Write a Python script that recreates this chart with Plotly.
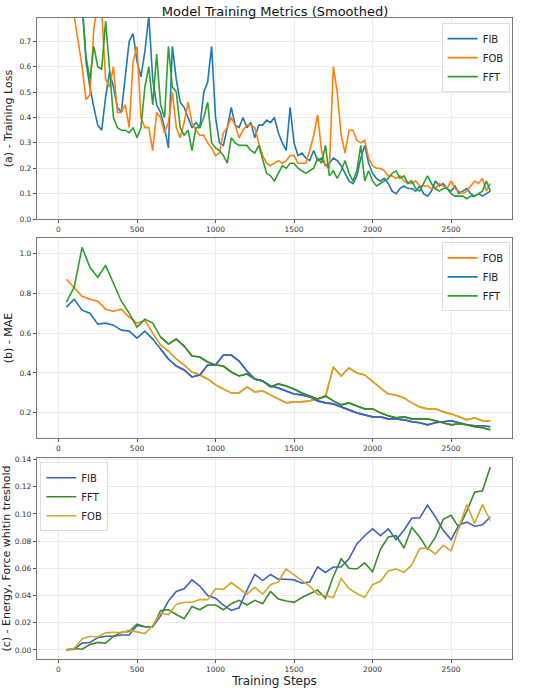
import plotly.graph_objects as go

# training loss, sampled every 25 steps
loss_steps = list(range(0, 2775, 25))
loss_fib = [1.30, 1.25, 1.20, 1.10, 1.05, 0.95, 0.85, 0.62, 0.52, 0.44,
            0.37, 0.35, 0.48, 0.58, 0.52, 0.44, 0.42, 0.56, 0.70, 0.73,
            0.62, 0.56, 0.66, 0.80, 0.55, 0.45, 0.42, 0.36, 0.28, 0.68,
            0.55, 0.46, 0.44, 0.40, 0.36, 0.38, 0.36, 0.50, 0.54, 0.68,
            0.40, 0.30, 0.29, 0.36, 0.44, 0.37, 0.36, 0.40, 0.36, 0.38,
            0.32, 0.37, 0.37, 0.39, 0.38, 0.40, 0.34, 0.30, 0.27, 0.44,
            0.30, 0.25, 0.26, 0.24, 0.23, 0.27, 0.23, 0.24, 0.21, 0.22,
            0.24, 0.23, 0.21, 0.18, 0.15, 0.14, 0.17, 0.24, 0.29, 0.22,
            0.18, 0.16, 0.15, 0.16, 0.14, 0.11, 0.10, 0.12, 0.13, 0.12,
            0.12, 0.11, 0.13, 0.10, 0.09, 0.11, 0.15, 0.13, 0.14, 0.12,
            0.11, 0.13, 0.10, 0.11, 0.12, 0.10, 0.09, 0.10, 0.09, 0.10,
            0.11]
loss_fob = [1.40, 1.30, 1.15, 0.95, 0.80, 0.70, 0.60, 0.47, 0.49, 0.75,
            0.85, 0.82, 0.55, 0.52, 0.60, 0.42, 0.42, 0.45, 0.36, 0.62,
            0.68, 0.40, 0.36, 0.36, 0.27, 0.42, 0.40, 0.34, 0.38, 0.50,
            0.36, 0.32, 0.38, 0.46, 0.38, 0.35, 0.33, 0.33, 0.30, 0.28,
            0.25, 0.26, 0.34, 0.36, 0.40, 0.37, 0.32, 0.35, 0.37, 0.37,
            0.36, 0.30, 0.25, 0.22, 0.21, 0.22, 0.23, 0.22, 0.23, 0.25,
            0.25, 0.22, 0.22, 0.22, 0.27, 0.33, 0.41, 0.27, 0.21, 0.20,
            0.60, 0.50, 0.33, 0.26, 0.35, 0.35, 0.31, 0.30, 0.31, 0.24,
            0.21, 0.20, 0.20, 0.19, 0.17, 0.17, 0.16, 0.17, 0.15, 0.14,
            0.14, 0.15, 0.13, 0.13, 0.13, 0.12, 0.12, 0.14, 0.13, 0.12,
            0.15, 0.12, 0.11, 0.10, 0.11, 0.13, 0.15, 0.14, 0.16, 0.11,
            0.14]
loss_fft = [1.50, 1.40, 1.30, 1.15, 1.05, 0.95, 0.85, 0.64, 0.55, 0.68,
            0.60, 0.59, 0.78, 0.58, 0.40, 0.36, 0.35, 0.35, 0.34, 0.36,
            0.32, 0.36, 0.52, 0.60, 0.45, 0.65, 0.45, 0.40, 0.68, 0.52,
            0.50, 0.36, 0.33, 0.35, 0.27, 0.36, 0.36, 0.40, 0.46, 0.30,
            0.28, 0.27, 0.25, 0.22, 0.32, 0.30, 0.29, 0.29, 0.29, 0.27,
            0.26, 0.29, 0.23, 0.18, 0.17, 0.15, 0.18, 0.21, 0.20, 0.22,
            0.22, 0.20, 0.19, 0.18, 0.19, 0.20, 0.24, 0.22, 0.29, 0.17,
            0.19, 0.16, 0.19, 0.23, 0.18, 0.15, 0.19, 0.29, 0.15, 0.19,
            0.15, 0.13, 0.14, 0.15, 0.16, 0.18, 0.19, 0.16, 0.17, 0.14,
            0.15, 0.12, 0.11, 0.14, 0.17, 0.14, 0.12, 0.11, 0.12, 0.12,
            0.10, 0.09, 0.09, 0.09, 0.08, 0.09, 0.09, 0.10, 0.11, 0.15,
            0.11]

# evaluation metrics, every 50 steps
eval_steps = list(range(50, 2800, 50))
mae_fob = [0.87, 0.83, 0.785, 0.77, 0.76, 0.72, 0.71, 0.72, 0.68, 0.65,
           0.665, 0.60, 0.54, 0.51, 0.47, 0.44, 0.405, 0.39, 0.37, 0.34,
           0.32, 0.30, 0.30, 0.33, 0.305, 0.31, 0.29, 0.27, 0.25, 0.255,
           0.255, 0.26, 0.27, 0.28, 0.43, 0.385, 0.425, 0.40, 0.39, 0.355,
           0.325, 0.295, 0.29, 0.275, 0.25, 0.23, 0.22, 0.22, 0.205, 0.195,
           0.18, 0.165, 0.175, 0.16, 0.16]
mae_fib = [0.73, 0.77, 0.715, 0.70, 0.645, 0.65, 0.64, 0.615, 0.61, 0.575,
           0.61, 0.57, 0.52, 0.47, 0.435, 0.415, 0.38, 0.39, 0.44, 0.44,
           0.49, 0.49, 0.46, 0.41, 0.37, 0.36, 0.335, 0.325, 0.31, 0.295,
           0.29, 0.28, 0.26, 0.25, 0.245, 0.23, 0.215, 0.20, 0.19, 0.18,
           0.18, 0.17, 0.17, 0.165, 0.155, 0.15, 0.14, 0.15, 0.155, 0.16,
           0.15, 0.14, 0.135, 0.135, 0.13]
mae_fft = [0.755, 0.83, 1.03, 0.93, 0.88, 0.94, 0.85, 0.76, 0.70, 0.63,
           0.67, 0.65, 0.58, 0.545, 0.57, 0.535, 0.485, 0.48, 0.455, 0.44,
           0.435, 0.405, 0.385, 0.395, 0.37, 0.36, 0.33, 0.345, 0.335, 0.32,
           0.30, 0.285, 0.27, 0.285, 0.26, 0.24, 0.25, 0.235, 0.22, 0.22,
           0.20, 0.185, 0.175, 0.18, 0.17, 0.17, 0.17, 0.16, 0.15, 0.14,
           0.145, 0.14, 0.13, 0.125, 0.115]

thr_fib = [0.0, 0.0005, 0.005, 0.0055, 0.009, 0.010, 0.010, 0.011, 0.011, 0.018,
           0.017, 0.017, 0.025, 0.036, 0.043, 0.045, 0.0515, 0.047, 0.040, 0.038,
           0.033, 0.029, 0.031, 0.044, 0.0555, 0.051, 0.0555, 0.052, 0.052, 0.0515,
           0.049, 0.050, 0.061, 0.057, 0.061, 0.061, 0.067, 0.078, 0.084, 0.089,
           0.084, 0.089, 0.081, 0.088, 0.097, 0.097, 0.1065, 0.098, 0.088, 0.081,
           0.092, 0.094, 0.091, 0.092, 0.098]
thr_fft = [0.0, 0.001, 0.0005, 0.004, 0.0055, 0.005, 0.010, 0.013, 0.0135, 0.019,
           0.017, 0.017, 0.029, 0.0295, 0.026, 0.023, 0.032, 0.0295, 0.033, 0.033,
           0.0295, 0.034, 0.0365, 0.033, 0.0365, 0.034, 0.043, 0.0375, 0.036, 0.035,
           0.0385, 0.041, 0.044, 0.038, 0.054, 0.067, 0.060, 0.0595, 0.064, 0.0575,
           0.074, 0.083, 0.084, 0.075, 0.090, 0.083, 0.074, 0.083, 0.096, 0.099,
           0.090, 0.102, 0.116, 0.117, 0.1345]
thr_fob = [0.0, 0.001, 0.008, 0.010, 0.0095, 0.0125, 0.013, 0.0125, 0.0145, 0.0135,
           0.012, 0.018, 0.027, 0.026, 0.0335, 0.035, 0.035, 0.037, 0.037, 0.045,
           0.0445, 0.0495, 0.045, 0.041, 0.046, 0.041, 0.048, 0.050, 0.0595, 0.055,
           0.051, 0.047, 0.041, 0.040, 0.0385, 0.0525, 0.045, 0.0415, 0.0385, 0.048,
           0.0505, 0.058, 0.0595, 0.057, 0.0625, 0.0745, 0.075, 0.0705, 0.077, 0.073,
           0.090, 0.107, 0.093, 0.107, 0.095]

BLUE, ORANGE, GREEN = "#1f77b4", "#ff7f0e", "#2ca02c"
BLUE2, GREEN2, GOLD = "#4060c4", "#3a8a2c", "#d2a62a"

fig = go.Figure()

def add(x, y, name, color, ax, legend, show=True):
    fig.add_trace(go.Scatter(x=x, y=y, name=name, mode="lines",
                             line=dict(color=color, width=1.6),
                             xaxis="x" + ax, yaxis="y" + ax,
                             legend=legend, showlegend=show))

add(loss_steps, loss_fib, "FIB", BLUE, "", "legend")
add(loss_steps, loss_fob, "FOB", ORANGE, "", "legend")
add(loss_steps, loss_fft, "FFT", GREEN, "", "legend")

add(eval_steps, mae_fob, "FOB", ORANGE, "2", "legend2")
add(eval_steps, mae_fib, "FIB", BLUE, "2", "legend2")
add(eval_steps, mae_fft, "FFT", GREEN, "2", "legend2")
# later part of panel (b) looks recoloured in the original
k = 12
add(eval_steps[k:], mae_fob[k:], "FOB", GOLD, "2", "legend2", False)
add(eval_steps[k:], mae_fib[k:], "FIB", BLUE2, "2", "legend2", False)
add(eval_steps[k:], mae_fft[k:], "FFT", GREEN2, "2", "legend2", False)

add(eval_steps, thr_fib, "FIB", BLUE2, "3", "legend3")
add(eval_steps, thr_fft, "FFT", GREEN2, "3", "legend3")
add(eval_steps, thr_fob, "FOB", GOLD, "3", "legend3")

tickfont = dict(size=7.5, color="#333")
xstyle = dict(range=[-137, 2888], tickvals=[0, 500, 1000, 1500, 2000, 2500],
              showgrid=True, gridcolor="#ebebeb", showline=True, linecolor="#777",
              linewidth=1.2, mirror=True, ticks="outside", ticklen=3,
              tickcolor="#555", tickfont=tickfont, zeroline=False, automargin=False)
ystyle = dict(showgrid=True, gridcolor="#ebebeb", showline=True, linecolor="#777",
              linewidth=1.2, mirror=True, ticks="outside", ticklen=3,
              tickcolor="#555", tickfont=tickfont, zeroline=False, automargin=False,
              title_font=dict(size=11, color="#222"), title_standoff=4)
legstyle = dict(bgcolor="rgba(255,255,255,0.85)", bordercolor="#ddd", borderwidth=1,
                font=dict(size=10, color="#222"), tracegroupgap=0, itemwidth=30)

d1, d2, d3 = [0.6864, 1.0], [0.3448, 0.6568], [0.0, 0.3136]

fig.update_layout(
    width=550, height=689,
    font=dict(family="DejaVu Sans"),
    paper_bgcolor="white", plot_bgcolor="white",
    margin=dict(l=37, r=38, t=18, b=30),
    title=dict(text="Model Training Metrics (Smoothed)", x=0.5, xanchor="center",
               y=0.984, yanchor="middle", font=dict(size=13, color="#111")),
    xaxis=dict(xstyle, domain=[0, 1], anchor="y"),
    xaxis2=dict(xstyle, domain=[0, 1], anchor="y2"),
    xaxis3=dict(xstyle, domain=[0, 1], anchor="y3",
                title=dict(text="Training Steps", font=dict(size=12, color="#222"),
                           standoff=0)),
    yaxis=dict(ystyle, domain=d1, anchor="x", range=[0, 0.792], dtick=0.1,
               tickformat=".1f", title_text="(a) - Training Loss"),
    yaxis2=dict(ystyle, domain=d2, anchor="x2", range=[0.074, 1.077],
                tickvals=[0.2, 0.4, 0.6, 0.8, 1.0], tickformat=".1f",
                title_text="(b) - MAE"),
    yaxis3=dict(ystyle, domain=d3, anchor="x3", range=[-0.0067, 0.1412],
                dtick=0.02, tickformat=".2f",
                title_text="(c) - Energy, Force whitin treshold"),
    legend=dict(legstyle, x=0.995, y=0.992, xanchor="right", yanchor="top"),
    legend2=dict(legstyle, x=0.995, y=0.65, xanchor="right", yanchor="top"),
    legend3=dict(legstyle, x=0.007, y=0.307, xanchor="left", yanchor="top"),
)

fig.write_html("out.html", config={"displayModeBar": False},
               post_script="document.body.style.margin='0';")
